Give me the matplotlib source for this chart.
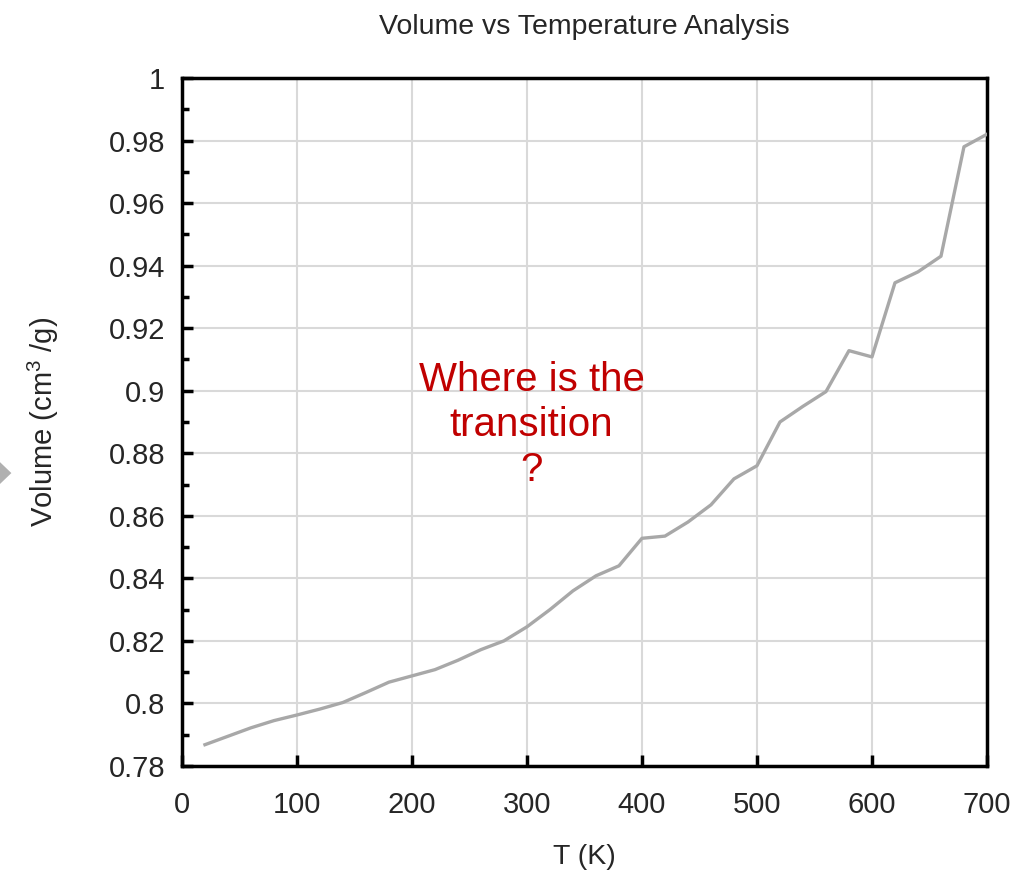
import matplotlib
matplotlib.use('Agg')
import matplotlib.pyplot as plt
from matplotlib.ticker import MultipleLocator, FuncFormatter
from matplotlib.patches import Polygon

plt.rcParams['font.family'] = ['Liberation Sans', 'DejaVu Sans']
plt.rcParams['mathtext.fontset'] = 'custom'
plt.rcParams['mathtext.rm'] = 'Liberation Sans'
plt.rcParams['mathtext.it'] = 'Liberation Sans'

# temperature (K) and specific volume (cm3/g)
temp = [20, 40, 60, 80, 100, 120, 140, 160, 180, 200, 220, 240, 260, 280, 300,
        320, 340, 360, 380, 400, 420, 440, 460, 480, 500, 520, 540, 560, 580, 600,
        620, 640, 660, 680, 700]
volume = [0.7868, 0.7895, 0.7922, 0.7945, 0.7963, 0.7982, 0.8003, 0.8035, 0.8068, 0.8088,
          0.8108, 0.8138, 0.8172, 0.8200, 0.8245, 0.8300, 0.8360, 0.8408, 0.8440, 0.8528,
          0.8535, 0.8580, 0.8635, 0.8718, 0.8760, 0.8900, 0.8950, 0.8997, 0.9128, 0.9108,
          0.9345, 0.9380, 0.9430, 0.9780, 0.9820]

fig = plt.figure(figsize=(10.35, 8.72), dpi=100)
ax = fig.add_axes([0.1758, 0.1216, 0.7778, 0.789])

ax.plot(temp, volume, color='#a8a8a8', linewidth=2.4, zorder=3)

ax.set_xlim(0, 700)
ax.set_ylim(0.78, 1.0)
ax.xaxis.set_major_locator(MultipleLocator(100))
ax.yaxis.set_major_locator(MultipleLocator(0.02))
ax.yaxis.set_minor_locator(MultipleLocator(0.01))
ax.yaxis.set_major_formatter(FuncFormatter(lambda v, p: '{:g}'.format(round(v, 2))))

ax.grid(True, color='#d9d9d9', linewidth=1.5, zorder=0)
for s in ax.spines.values():
    s.set_linewidth(2.5)
ax.tick_params(which='major', direction='in', length=8, width=2.5, labelsize=21, colors='black')
ax.tick_params(axis='x', pad=18)
ax.tick_params(axis='y', pad=12)
ax.tick_params(axis='y', which='minor', direction='in', length=5, width=2.5)
for lab in ax.get_xticklabels() + ax.get_yticklabels():
    lab.set_color('#262626')

ax.set_title('Volume vs Temperature Analysis', fontsize=20.5, color='#262626', pad=32)
ax.set_xlabel('T (K)', fontsize=20.5, color='#262626', labelpad=18)
ax.set_ylabel('Volume (cm$^{3}$ /g)', fontsize=21, color='#262626', labelpad=34)

ax.text(304, 0.889, 'Where is the\ntransition\n?', color='#c00000', fontsize=29,
        ha='center', va='center', multialignment='center', linespacing=1.22)

# small arrow mark at the left edge
fig.patches.append(Polygon([[0.0, 0.47], [0.0, 0.445], [0.011, 0.4575]], closed=True,
                           transform=fig.transFigure, facecolor='#b0b0b0', edgecolor='none'))

fig.savefig('out.png', dpi=100)
